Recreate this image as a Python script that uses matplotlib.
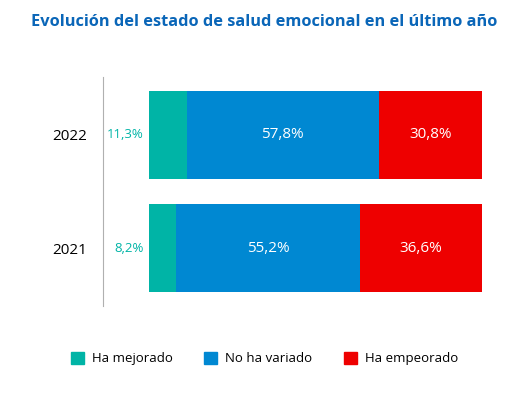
import matplotlib.pyplot as plt
from matplotlib.patches import Patch

years = ["2021", "2022"]
mejorado = [8.2, 11.3]
no_variado = [55.2, 57.8]
empeorado = [36.6, 30.8]

series_names = ["Ha mejorado", "No ha variado", "Ha empeorado"]
colors = ["#00b4a6", "#0088d2", "#ee0000"]

plt.rcParams['font.family'] = ['Open Sans', 'DejaVu Sans']

fig = plt.figure(figsize=(5.29, 3.93), dpi=100)
ax = fig.add_axes([0.1947, 0.2214, 0.7164, 0.5827])

ypos = list(range(len(years)))
left = [0, 0]
for vals, col in zip([mejorado, no_variado, empeorado], colors):
    ax.barh(ypos, vals, left=left, height=0.78, color=col)
    left = [a + b for a, b in zip(left, vals)]

# labels
for y, v in zip(ypos, mejorado):
    ax.text(-1.5, y, f"{v:.1f}%".replace(".", ","), ha="right", va="center",
            color="#00b4a6", fontsize=9.5)
for y, m, v in zip(ypos, mejorado, no_variado):
    ax.text(m + v / 2, y, f"{v:.1f}%".replace(".", ","), ha="center", va="center",
            color="white", fontsize=11)
for y, m, n, v in zip(ypos, mejorado, no_variado, empeorado):
    ax.text(m + n + v / 2, y, f"{v:.1f}%".replace(".", ","), ha="center", va="center",
            color="white", fontsize=11)

ax.set_xlim(-13.8, 100)
ax.set_ylim(-0.513, 1.513)
ax.set_yticks(ypos)
ax.set_yticklabels(years, fontsize=11)
ax.tick_params(axis="y", length=0, pad=11.5)
ax.set_xticks([])
for s in ["top", "right", "bottom"]:
    ax.spines[s].set_visible(False)
ax.spines["left"].set_color("#b0b0b0")

fig.text(0.5, 0.945, "Evolución del estado de salud emocional en el último año",
         ha="center", va="center", fontsize=11.8, fontweight="bold", color="#0a66b8")

handles = [Patch(color=c) for c in colors]
fig.legend(handles, series_names, loc="center", bbox_to_anchor=(0.5, 0.088),
           ncol=3, frameon=False, fontsize=9.5, handlelength=1.0, handleheight=1.0,
           columnspacing=2.4, handletextpad=0.6)

fig.savefig("out.png", dpi=100)
